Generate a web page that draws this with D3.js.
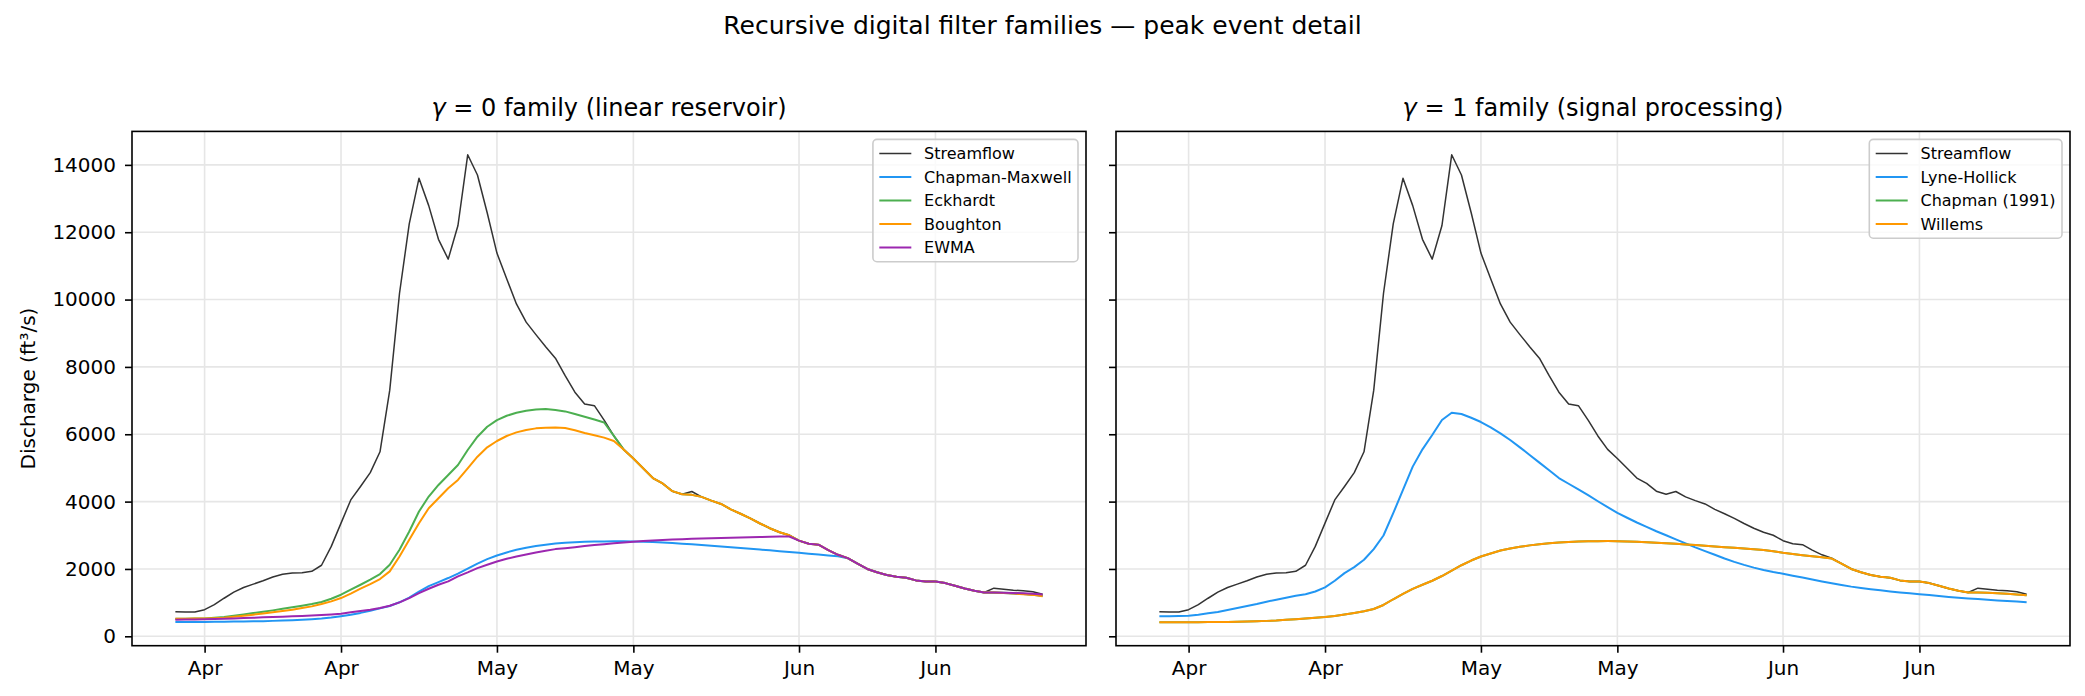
<!DOCTYPE html>
<html>
<head>
<meta charset="utf-8">
<script src="https://cdn.jsdelivr.net/npm/d3@7"></script>
<style>
  body { margin: 0; background: #fff; }
  svg text { font-family: "DejaVu Sans", sans-serif; fill: #000; }
  .axis text { font-size: 20px; }
  .axis line { stroke: #000; stroke-width: 1.6; }
</style>
</head>
<body>
<svg id="chart" width="2085" height="696"></svg>
<script>
// daily record, 29 Mar .. 26 Jun
const firstDay = "2019-03-29";
const lastDay = "2019-06-26";

const xTickDates = ["2019-04-01", "2019-04-15", "2019-05-01", "2019-05-15", "2019-06-01", "2019-06-15"];
const yTicks = [0, 2000, 4000, 6000, 8000, 10000, 12000, 14000];

const streamflow = [
  730, 720, 720, 790, 940, 1130, 1310, 1450, 1550, 1650,
  1760, 1840, 1880, 1890, 1930, 2110, 2670, 3360, 4050, 4450,
  4860, 5480, 7310, 10180, 12250, 13600, 12790, 11790, 11200, 12200,
  14300, 13700, 12580, 11380, 10620, 9870, 9330, 8960, 8600, 8260,
  7740, 7250, 6900, 6850, 6420, 5950, 5550, 5280, 4990, 4700,
  4540, 4310, 4220, 4300, 4140, 4030, 3930, 3770, 3640, 3500,
  3350, 3210, 3090, 3000, 2840, 2750, 2720, 2560, 2420, 2320,
  2160, 2000, 1900, 1820, 1770, 1740, 1660, 1630, 1630, 1580,
  1500, 1420, 1350, 1300, 1430, 1400, 1370, 1350, 1320, 1250
];

// gamma = 0 family
const chapmanMaxwell = [
  425, 425, 425, 428, 430, 433, 436, 440, 445, 450,
  458, 467, 478, 490, 505, 525, 555, 595, 640, 695,
  760, 830, 900, 1010, 1150, 1330, 1490, 1610, 1730, 1860,
  2010, 2160, 2290, 2400, 2490, 2570, 2630, 2680, 2720, 2755,
  2775, 2795, 2805, 2812, 2818, 2820, 2820, 2815, 2810, 2800,
  2785, 2768, 2750, 2730, 2710, 2690, 2668, 2646, 2623, 2600,
  2576, 2552, 2528, 2503, 2478, 2452, 2426, 2400, 2374, 2320,
  2160, 2000, 1900, 1820, 1770, 1740, 1660, 1630, 1630, 1580,
  1500, 1420, 1350, 1300, 1295, 1285, 1270, 1255, 1235, 1200
];
const eckhardt = [
  524, 524, 526, 532, 548, 570, 610, 650, 690, 730,
  770, 815, 860, 910, 958, 1018, 1116, 1235, 1383, 1531,
  1680, 1848, 2124, 2570, 3112, 3705, 4150, 4495, 4792, 5088,
  5533, 5928, 6224, 6422, 6550, 6640, 6699, 6738, 6748, 6718,
  6679, 6600, 6520, 6440, 6350, 5950, 5550, 5280, 4990, 4700,
  4540, 4310, 4220, 4200, 4140, 4030, 3930, 3770, 3640, 3500,
  3350, 3210, 3090, 3000, 2840, 2750, 2720, 2560, 2420, 2320,
  2160, 2000, 1900, 1820, 1770, 1740, 1660, 1630, 1630, 1580,
  1500, 1420, 1350, 1300, 1300, 1290, 1275, 1260, 1240, 1210
];
const boughton = [
  524, 524, 525, 528, 538, 553, 580, 610, 642, 676,
  711, 750, 790, 840, 889, 958, 1037, 1136, 1265, 1413,
  1551, 1699, 1927, 2371, 2865, 3359, 3804, 4100, 4397, 4644,
  4989, 5335, 5612, 5800, 5948, 6056, 6126, 6175, 6194, 6204,
  6185, 6120, 6040, 5970, 5900, 5800, 5550, 5280, 4990, 4700,
  4540, 4310, 4220, 4200, 4140, 4030, 3930, 3770, 3640, 3500,
  3350, 3210, 3090, 3000, 2840, 2750, 2720, 2560, 2420, 2320,
  2160, 2000, 1900, 1820, 1770, 1740, 1660, 1630, 1630, 1580,
  1500, 1420, 1350, 1300, 1300, 1285, 1270, 1250, 1230, 1190
];
const ewma = [
  494, 497, 500, 505, 510, 520, 530, 540, 550, 562,
  573, 583, 594, 605, 618, 632, 650, 672, 711, 751,
  790, 840, 909, 1008, 1136, 1284, 1413, 1531, 1630, 1778,
  1897, 2025, 2124, 2223, 2302, 2371, 2430, 2490, 2539, 2589,
  2618, 2648, 2680, 2710, 2735, 2760, 2785, 2810, 2830, 2845,
  2860, 2872, 2884, 2895, 2905, 2914, 2922, 2930, 2937, 2944,
  2950, 2956, 2961, 2965, 2840, 2750, 2720, 2560, 2420, 2320,
  2160, 2000, 1900, 1820, 1770, 1740, 1660, 1630, 1630, 1580,
  1500, 1420, 1350, 1300, 1300, 1295, 1285, 1275, 1260, 1240
];

// gamma = 1 family
const lyneHollick = [
  593, 593, 603, 613, 642, 682, 721, 781, 840, 899,
  958, 1028, 1087, 1146, 1205, 1250, 1330, 1452, 1650, 1877,
  2055, 2272, 2589, 2994, 3656, 4347, 5039, 5553, 5977, 6422,
  6640, 6600, 6491, 6363, 6205, 6027, 5829, 5612, 5385, 5157,
  4930, 4700, 4530, 4360, 4190, 4010, 3835, 3665, 3520, 3380,
  3250, 3120, 3000, 2880, 2760, 2640, 2530, 2420, 2310, 2210,
  2120, 2040, 1970, 1910, 1860, 1800, 1745, 1685, 1630, 1575,
  1525, 1475, 1435, 1400, 1365, 1330, 1300, 1275, 1250, 1225,
  1195, 1170, 1145, 1125, 1105, 1085, 1065, 1050, 1030, 1010
];
// Chapman (1991) sits exactly under Willems in the picture
const chapman1991 = [
  415, 415, 416, 417, 419, 421, 424, 428, 433, 440,
  448, 458, 470, 490, 508, 528, 548, 573, 605, 645,
  690, 741, 810, 930, 1100, 1260, 1410, 1530, 1650, 1790,
  1950, 2110, 2250, 2370, 2460, 2550, 2610, 2660, 2700, 2735,
  2760, 2785, 2800, 2812, 2820, 2825, 2827, 2825, 2818, 2806,
  2792, 2778, 2762, 2745, 2727, 2708, 2688, 2668, 2648, 2627,
  2606, 2584, 2560, 2528, 2480, 2445, 2410, 2380, 2345, 2310,
  2160, 2000, 1900, 1820, 1770, 1740, 1660, 1630, 1630, 1580,
  1500, 1420, 1350, 1300, 1300, 1290, 1275, 1260, 1240, 1220
];
const willems = [
  415, 415, 416, 417, 419, 421, 424, 428, 433, 440,
  448, 458, 470, 490, 508, 528, 548, 573, 605, 645,
  690, 741, 810, 930, 1100, 1260, 1410, 1530, 1650, 1790,
  1950, 2110, 2250, 2370, 2460, 2550, 2610, 2660, 2700, 2735,
  2760, 2785, 2800, 2812, 2820, 2825, 2827, 2825, 2818, 2806,
  2792, 2778, 2762, 2745, 2727, 2708, 2688, 2668, 2648, 2627,
  2606, 2584, 2560, 2528, 2480, 2445, 2410, 2380, 2345, 2310,
  2160, 2000, 1900, 1820, 1770, 1740, 1660, 1630, 1630, 1580,
  1500, 1420, 1350, 1300, 1300, 1290, 1275, 1260, 1240, 1220
];

const parseDay = d3.utcParse("%Y-%m-%d");
const dates = d3.utcDay.range(parseDay(firstDay), d3.utcDay.offset(parseDay(lastDay), 1));
const tickDates = xTickDates.map(parseDay);

const svg = d3.select("#chart");
svg.append("rect").attr("width", 2085).attr("height", 696).attr("fill", "#fff");

const plotTop = 131.4, plotBottom = 645.7;

const panels = [
  {
    x0: 132, x1: 1086, gamma: "0", rest: " family (linear reservoir)", yLabels: true,
    series: [
      {name: "Streamflow", values: streamflow, color: "#333333", width: 1.5},
      {name: "Chapman-Maxwell", values: chapmanMaxwell, color: "#2196f3", width: 2},
      {name: "Eckhardt", values: eckhardt, color: "#4caf50", width: 2},
      {name: "Boughton", values: boughton, color: "#ff9800", width: 2},
      {name: "EWMA", values: ewma, color: "#9c27b0", width: 2}
    ]
  },
  {
    x0: 1116, x1: 2070, gamma: "1", rest: " family (signal processing)", yLabels: false,
    series: [
      {name: "Streamflow", values: streamflow, color: "#333333", width: 1.5},
      {name: "Lyne-Hollick", values: lyneHollick, color: "#2196f3", width: 2},
      {name: "Chapman (1991)", values: chapman1991, color: "#4caf50", width: 2},
      {name: "Willems", values: willems, color: "#ff9800", width: 2}
    ]
  }
];

// shared y range, 5% margins like matplotlib
const allValues = panels.flatMap(p => p.series.flatMap(s => s.values));
const yLo = d3.min(allValues), yHi = d3.max(allValues);
const yPad = (yHi - yLo) * 0.05;
const tPad = (dates[dates.length - 1] - dates[0]) * 0.05;

panels.forEach(p => {
  const x = d3.scaleUtc()
    .domain([new Date(+dates[0] - tPad), new Date(+dates[dates.length - 1] + tPad)])
    .range([p.x0, p.x1]);
  const y = d3.scaleLinear().domain([yLo - yPad, yHi + yPad]).range([plotBottom, plotTop]);

  const g = svg.append("g");

  // grid
  g.selectAll(".gx").data(tickDates).join("line")
    .attr("x1", d => x(d)).attr("x2", d => x(d))
    .attr("y1", plotTop).attr("y2", plotBottom)
    .attr("stroke", "#e6e6e6").attr("stroke-width", 1.6);
  g.selectAll(".gy").data(yTicks).join("line")
    .attr("x1", p.x0).attr("x2", p.x1)
    .attr("y1", d => y(d)).attr("y2", d => y(d))
    .attr("stroke", "#e6e6e6").attr("stroke-width", 1.6);

  const line = d3.line()
    .x((d, i) => x(dates[i]))
    .y(d => y(d));

  p.series.forEach(s => {
    g.append("path")
      .datum(s.values)
      .attr("d", line)
      .attr("fill", "none")
      .attr("stroke", s.color)
      .attr("stroke-width", s.width)
      .attr("stroke-linejoin", "round")
      .attr("stroke-linecap", "butt");
  });

  // axes
  const xAxis = d3.axisBottom(x)
    .tickValues(tickDates)
    .tickFormat(d3.utcFormat("%b"))
    .tickSizeInner(7).tickSizeOuter(0).tickPadding(8);
  const gx = g.append("g").attr("class", "axis")
    .attr("transform", `translate(0,${plotBottom})`).call(xAxis);
  gx.select(".domain").remove();

  const yAxis = d3.axisLeft(y)
    .tickValues(yTicks)
    .tickFormat(p.yLabels ? d3.format("d") : () => "")
    .tickSizeInner(7).tickSizeOuter(0).tickPadding(9);
  const gy = g.append("g").attr("class", "axis")
    .attr("transform", `translate(${p.x0},0)`).call(yAxis);
  gy.select(".domain").remove();

  // frame
  g.append("rect")
    .attr("x", p.x0).attr("y", plotTop)
    .attr("width", p.x1 - p.x0).attr("height", plotBottom - plotTop)
    .attr("fill", "none").attr("stroke", "#000").attr("stroke-width", 1.6);

  // title
  const title = g.append("text")
    .attr("x", (p.x0 + p.x1) / 2).attr("y", 116)
    .attr("text-anchor", "middle").attr("font-size", 24);
  title.append("tspan").attr("font-style", "italic").text("γ");
  title.append("tspan").text(" = " + p.gamma + p.rest);

  // legend
  const fs = 16, border = 6.4, handle = 32, gap = 12.8, rowH = 23.5;
  const leg = g.append("g");
  const box = leg.append("rect");
  const rows = leg.selectAll("g").data(p.series).join("g");
  rows.append("line")
    .attr("x1", 0).attr("x2", handle)
    .attr("stroke", d => d.color).attr("stroke-width", d => d.width);
  rows.append("text")
    .attr("x", handle + gap).attr("dy", "0.35em")
    .attr("font-size", fs).text(d => d.name);
  let textW = 0;
  rows.selectAll("text").each(function () { textW = Math.max(textW, this.getComputedTextLength()); });
  const legW = border * 2 + handle + gap + textW;
  const legH = border * 2 + p.series.length * rowH - 8;
  const legX = p.x1 - 8 - legW, legY = plotTop + 8;
  box.attr("x", legX).attr("y", legY).attr("width", legW).attr("height", legH)
    .attr("rx", 4).attr("fill", "#fff").attr("fill-opacity", 0.8)
    .attr("stroke", "#cccccc").attr("stroke-width", 1.6);
  rows.attr("transform", (d, i) => `translate(${legX + border},${legY + border + 7.75 + i * rowH})`);
});

// y label
svg.append("text")
  .attr("transform", `translate(35,${(plotTop + plotBottom) / 2}) rotate(-90)`)
  .attr("text-anchor", "middle").attr("font-size", 20)
  .text("Discharge (ft³/s)");

// suptitle
svg.append("text")
  .attr("x", 1042.5).attr("y", 34)
  .attr("text-anchor", "middle").attr("font-size", 25)
  .text("Recursive digital filter families — peak event detail");
</script>
</body>
</html>
